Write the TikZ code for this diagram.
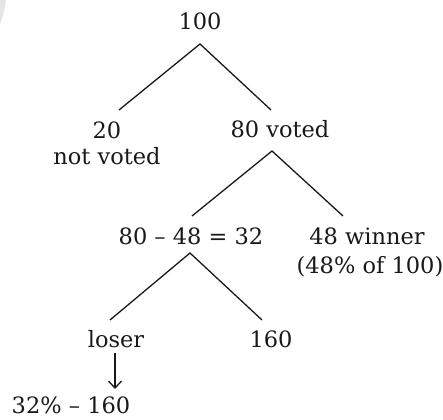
\documentclass[tikz,border=0pt]{standalone}
\usepackage{fontspec}
\setmainfont{DejaVu Serif}
\usetikzlibrary{arrows.meta}
\begin{document}
\begin{tikzpicture}[x=1pt,y=-1pt,
  lbl/.style={inner sep=0pt, font=\fontsize{22.5}{26}\selectfont, text=black!90},
  edge/.style={line width=1.3pt, black!90},
  down/.style={line width=1.3pt, black!90, -{Straight Barb[length=7pt,width=13pt,line width=1.3pt]}}]
\useasboundingbox (0,0) rectangle (443,419);
% faint shading in the upper left corner
\fill[black!10] (0,0) -- (6,0) .. controls (5,8) and (3,16) .. (0,24) -- cycle;

% tree labels
\node[lbl] (root) at (200,21) {100};
\node[lbl] (nv) at (107,130) {20};
\node[lbl] (nvt) at (107,156) {not voted};
\node[lbl] (vt) at (280,129) {80 voted};
\node[lbl] (diff) at (191,236) {80 – 48 = 32};
\node[lbl] (win) at (367,236) {48 winner};
\node[lbl] (wint) at (370,267) {(48\% of 100)};
\node[lbl] (los) at (116,339) {loser};
\node[lbl] (oneSixty) at (271,339) {160};
\node[lbl] (eqn) at (71,405) {32\% – 160};

% branch points
\coordinate (a1) at (200,44);
\coordinate (a1l) at (119,110);
\coordinate (a1r) at (271,110);
\coordinate (a2) at (272,151);
\coordinate (a2l) at (192,216);
\coordinate (a2r) at (343,216);
\coordinate (a3) at (190,253);
\coordinate (a3l) at (110,320);
\coordinate (a3r) at (262,320);
\coordinate (ar1) at (115,353);
\coordinate (ar2) at (115,389);

\draw[edge] (a1l) -- (a1) -- (a1r);
\draw[edge] (a2l) -- (a2) -- (a2r);
\draw[edge] (a3l) -- (a3) -- (a3r);
\draw[down] (ar1) -- (ar2);
\end{tikzpicture}
\end{document}
